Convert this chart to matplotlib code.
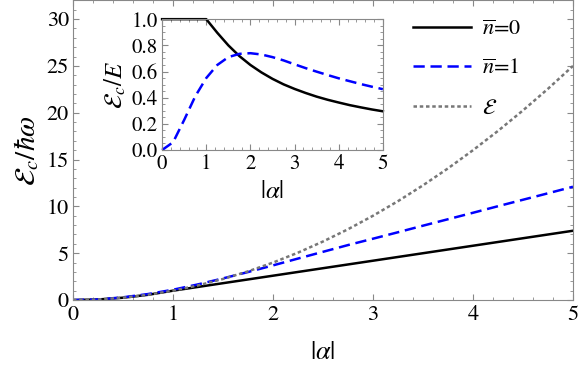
import matplotlib
matplotlib.use("Agg")
import matplotlib.pyplot as plt
from matplotlib.ticker import MultipleLocator, FormatStrFormatter

plt.rcParams['font.family'] = ['STIXGeneral', 'DejaVu Serif']
plt.rcParams['mathtext.fontset'] = 'stix'

alpha = [0.0, 0.25, 0.5, 0.75, 1.0, 1.25, 1.5, 1.75, 2.0, 2.25, 2.5,
         2.75, 3.0, 3.25, 3.5, 3.75, 4.0, 4.25, 4.5, 4.75, 5.0]

# main panel: charging energy
energy = [0.0, 0.06, 0.25, 0.56, 1.0, 1.56, 2.25, 3.06, 4.0, 5.06, 6.25,
          7.56, 9.0, 10.56, 12.25, 14.06, 16.0, 18.06, 20.25, 22.56, 25.0]
ec_n0 = [0.0, 0.06, 0.25, 0.56, 1.0, 1.4, 1.8, 2.2, 2.6, 3.0, 3.4,
         3.8, 4.2, 4.6, 5.0, 5.4, 5.8, 6.2, 6.6, 7.0, 7.4]
ec_n1 = [0.0, 0.06, 0.29, 0.64, 1.1, 1.67, 2.31, 2.99, 3.7, 4.43, 5.15,
         5.87, 6.55, 7.24, 7.94, 8.63, 9.32, 10.02, 10.71, 11.4, 12.1]

# inset: ratio Ec/E
ratio_n0 = [1.0, 1.0, 1.0, 1.0, 1.0, 0.896, 0.80, 0.718, 0.65, 0.593, 0.544,
            0.502, 0.467, 0.436, 0.408, 0.384, 0.363, 0.343, 0.326, 0.31, 0.296]
ratio_n1 = [0.0, 0.06, 0.23, 0.41, 0.55, 0.65, 0.71, 0.735, 0.74, 0.73, 0.71,
            0.685, 0.655, 0.626, 0.599, 0.573, 0.548, 0.526, 0.504, 0.484, 0.465]

labels = [r'$\overline{n}$=0', r'$\overline{n}$=1', r'$\mathcal{E}$']
spine_col = '#888888'


def style_axes(ax):
    for s in ax.spines.values():
        s.set_color(spine_col)
    ax.tick_params(which='both', direction='in', top=True, right=True,
                   color=spine_col, labelcolor='black')
    ax.tick_params(which='major', length=4)
    ax.tick_params(which='minor', length=2)


fig = plt.figure(figsize=(5.81, 3.76), dpi=100)
ax = fig.add_axes([0.1256, 0.202, 0.8606, 0.797])

ax.plot(alpha, ec_n0, color='black', lw=1.8, label=labels[0])
ax.plot(alpha, ec_n1, color='blue', lw=1.8, dashes=(4.5, 2.3), label=labels[1])
ax.plot(alpha, energy, color='#777777', lw=1.8, dashes=(1.4, 1.1), label=labels[2])
ax.set_xlim(0, 5)
ax.set_ylim(0, 32)
ax.xaxis.set_major_locator(MultipleLocator(1))
ax.xaxis.set_minor_locator(MultipleLocator(0.2))
ax.yaxis.set_major_locator(MultipleLocator(5))
ax.yaxis.set_minor_locator(MultipleLocator(1))
style_axes(ax)
ax.tick_params(labelsize=16)
ax.tick_params(axis='x', pad=4)
ax.tick_params(axis='y', pad=3)
ax.set_xlabel(r'$|\alpha|$', fontsize=19, labelpad=11)
ax.set_ylabel(r'$\mathcal{E}_c/\hbar\omega$', fontsize=21, labelpad=4)

fig.legend(loc='upper left', bbox_to_anchor=(413 / 581, 1 - 19 / 376),
           frameon=False, fontsize=16, handlelength=2.6, handletextpad=0.5,
           labelspacing=0.85, borderpad=0, borderaxespad=0)

ins = fig.add_axes([0.279, 0.601, 0.38, 0.348])
ins.plot(alpha, ratio_n0, color='black', lw=1.8, clip_on=False)
ins.plot(alpha, ratio_n1, color='blue', lw=1.8, dashes=(4.5, 2.3), clip_on=False)
ins.set_xlim(0, 5)
ins.set_ylim(0, 1)
ins.xaxis.set_major_locator(MultipleLocator(1))
ins.xaxis.set_minor_locator(MultipleLocator(0.2))
ins.yaxis.set_major_locator(MultipleLocator(0.2))
ins.yaxis.set_minor_locator(MultipleLocator(0.05))
ins.yaxis.set_major_formatter(FormatStrFormatter('%.1f'))
style_axes(ins)
ins.tick_params(labelsize=15)
ins.tick_params(axis='x', pad=3)
ins.tick_params(axis='y', pad=3)
ins.set_xlabel(r'$|\alpha|$', fontsize=18, labelpad=4)
ins.set_ylabel(r'$\mathcal{E}_c/E$', fontsize=18, labelpad=2)

fig.savefig('out.png', dpi=100)
